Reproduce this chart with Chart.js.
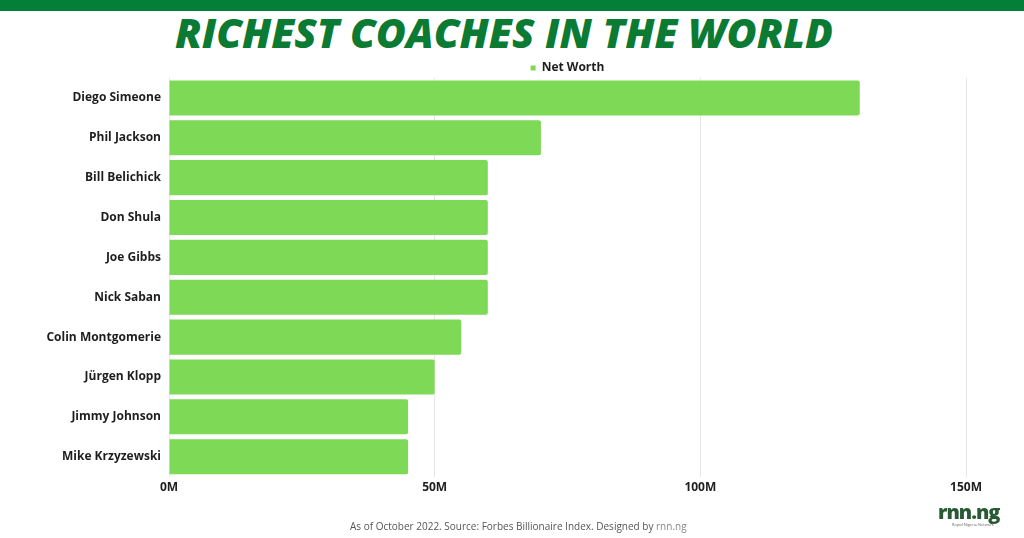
<!DOCTYPE html>
<html>
<head>
<meta charset="utf-8">
<script src="https://cdn.jsdelivr.net/npm/chart.js@4"></script>
<style>
    html, body { margin: 0; padding: 0; background: #fff; }
    #page { position: relative; width: 1024px; height: 538px; overflow: hidden; }
    #topbar { position: absolute; left: 0; top: 0; width: 1024px; height: 11px; background: #047f37; }
    #title {
        position: absolute; left: 0; top: 4px; width: 1008px; text-align: center;
        font-family: "Open Sans", sans-serif; font-weight: 800; font-style: italic;
        font-size: 41px; color: #0b7a33; letter-spacing: 0px;
    }
    #chartWrap { position: absolute; left: 0; top: 0; width: 1024px; height: 538px; }
    #footer {
        position: absolute; left: 350px; top: 519px;
        font-family: "Open Sans", sans-serif; font-size: 10px; color: #555;
    }
    #footer span { color: #888; }
    #logo {
        position: absolute; left: 938px; top: 502px;
        font-family: "Open Sans", sans-serif; font-weight: 800; font-size: 20px;
        color: #2a5a33; letter-spacing: -1px; line-height: 19px;
    }
    #logoSub {
        position: absolute; left: 952px; top: 522px;
        font-family: "Open Sans", sans-serif; font-size: 4px; color: #666;
    }
</style>
</head>
<body>
<div id="page">
    <div id="topbar"></div>
    <div id="title">RICHEST COACHES IN THE WORLD</div>
    <div id="chartWrap"><canvas id="chartCoaches" width="1024" height="538"></canvas></div>
    <div id="footer">As of October 2022. Source: Forbes Billionaire Index. Designed by <span>rnn.ng</span></div>
    <div id="logo">rnn.ng</div>
    <div id="logoSub">Rapid Nigeria Network</div>
</div>
<script>
const coaches = ["Diego Simeone", "Phil Jackson", "Bill Belichick", "Don Shula", "Joe Gibbs",
    "Nick Saban", "Colin Montgomerie", "Jürgen Klopp", "Jimmy Johnson", "Mike Krzyzewski"];
// net worth in millions of USD
const netWorth = [130, 70, 60, 60, 60, 60, 55, 50, 45, 45];
const seriesName = "Net Worth";
const xTicks = [0, 50, 100, 150];

const barColor = "#7ed957";
const textColor = "#1e1e1e";
const gridColor = "#e6e6e6";
const font = "'Open Sans', sans-serif";

Chart.defaults.font.family = font;

new Chart(document.getElementById("chartCoaches").getContext("2d"), {
    type: "bar",
    data: {
        labels: coaches,
        datasets: [{
            label: seriesName,
            data: netWorth,
            backgroundColor: barColor,
            borderWidth: 0,
            borderRadius: 2,
            categoryPercentage: 1,
            barPercentage: 0.88
        }]
    },
    options: {
        indexAxis: "y",
        responsive: false,
        animation: false,
        layout: { padding: { top: 62, right: 58, bottom: 39, left: 0 } },
        plugins: {
            legend: {
                fullSize: false,
                maxHeight: 16,
                labels: {
                    boxWidth: 5,
                    boxHeight: 5,
                    padding: 0,
                    color: textColor,
                    font: { size: 12, weight: "bold" }
                }
            },
            tooltip: { enabled: false }
        },
        scales: {
            x: {
                min: 0,
                max: 150,
                afterBuildTicks: axis => { axis.ticks = xTicks.map(v => ({ value: v })); },
                ticks: {
                    color: textColor,
                    padding: 4,
                    maxRotation: 0,
                    font: { size: 12, weight: "bold" },
                    callback: v => v + "M"
                },
                grid: { color: gridColor, lineWidth: 1, drawTicks: false },
                border: { display: false }
            },
            y: {
                afterFit: axis => { axis.width = 169; },
                ticks: {
                    color: textColor,
                    padding: 8,
                    font: { size: 12, weight: "bold" }
                },
                grid: { display: false, drawTicks: false },
                border: { display: false }
            }
        }
    }
});
</script>
</body>
</html>
